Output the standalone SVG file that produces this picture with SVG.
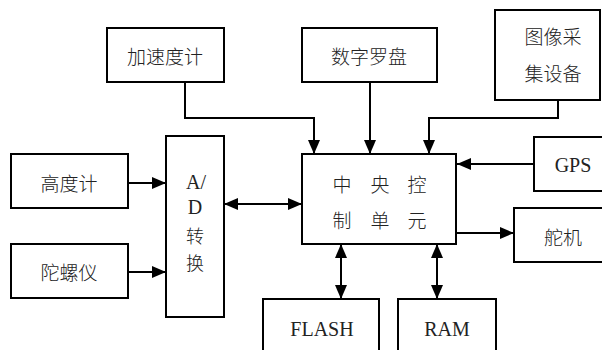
<svg xmlns="http://www.w3.org/2000/svg" width="602" height="350" viewBox="0 0 602 350">
<defs>
<marker id="ah" markerWidth="14" markerHeight="12" refX="14" refY="6" orient="auto-start-reverse" markerUnits="userSpaceOnUse">
<path d="M0,0 L14,6 L0,12 Z" fill="#000"/>
</marker>
<style>
.b{fill:#fff;stroke:#000;stroke-width:2}
.c{fill:none;stroke:#000;stroke-width:2}
text{font-family:"Liberation Serif","Noto Sans CJK SC",serif;font-size:20px;fill:#222;text-anchor:middle;dominant-baseline:central}
.cn{font-family:"Noto Sans CJK SC","Liberation Serif",serif;font-weight:300;font-size:19px}
.sm{font-size:18px}
</style>
</defs>
<rect width="602" height="350" fill="#fff"/>
<g id="connectors">
<path class="c" d="M185,82 V118 H314 V154" marker-end="url(#ah)"/>
<path class="c" d="M370,82 V154" marker-end="url(#ah)"/>
<path class="c" d="M558,100 V118 H429 V154" marker-end="url(#ah)"/>
<path class="c" d="M534,164 H457" marker-end="url(#ah)"/>
<path class="c" d="M457,233 H514" marker-end="url(#ah)"/>
<path class="c" d="M128,183 H166" marker-end="url(#ah)"/>
<path class="c" d="M128,272 H166" marker-end="url(#ah)"/>
<path class="c" d="M224,204 H302" marker-start="url(#ah)" marker-end="url(#ah)"/>
<path class="c" d="M341,244 V299" marker-start="url(#ah)" marker-end="url(#ah)"/>
<path class="c" d="M437,244 V299" marker-start="url(#ah)" marker-end="url(#ah)"/>
</g>
<g id="accel"><rect class="b" x="107" y="28" width="117" height="54"/><text class="cn" x="165" y="55">加速度计</text></g>
<g id="compass"><rect class="b" x="302" y="28" width="135" height="54"/><text class="cn" x="369" y="55">数字罗盘</text></g>
<g id="camera"><rect class="b" x="495" y="10" width="105" height="90"/><text class="cn" x="553" y="35">图像采</text><text class="cn" x="553" y="72">集设备</text></g>
<g id="altimeter"><rect class="b" x="11" y="154" width="117" height="54"/><text class="cn" x="69" y="182">高度计</text></g>
<g id="gyro"><rect class="b" x="11" y="244" width="117" height="54"/><text class="cn" x="69" y="271">陀螺仪</text></g>
<g id="ad"><rect class="b" x="166" y="136" width="58" height="181"/><text x="196" y="182">A/</text><text x="195" y="207">D</text><text class="cn sm" x="195" y="235">转</text><text class="cn sm" x="195" y="262">换</text></g>
<g id="cpu"><rect class="b" x="302" y="154" width="154" height="90"/>
<text class="cn" x="342" y="183">中</text><text class="cn" x="380" y="183">央</text><text class="cn" x="417" y="183">控</text>
<text class="cn" x="342" y="219">制</text><text class="cn" x="380" y="219">单</text><text class="cn" x="417" y="219">元</text></g>
<g id="gps"><rect class="b" x="534" y="137" width="70" height="54"/><text x="573" y="165">GPS</text></g>
<g id="servo"><rect class="b" x="514" y="208" width="90" height="54"/><text class="cn" x="563" y="236">舵机</text></g>
<g id="flash"><rect class="b" x="263" y="299" width="116" height="60"/><text x="322" y="329">FLASH</text></g>
<g id="ram"><rect class="b" x="398" y="299" width="98" height="60"/><text x="447" y="329">RAM</text></g>
</svg>
